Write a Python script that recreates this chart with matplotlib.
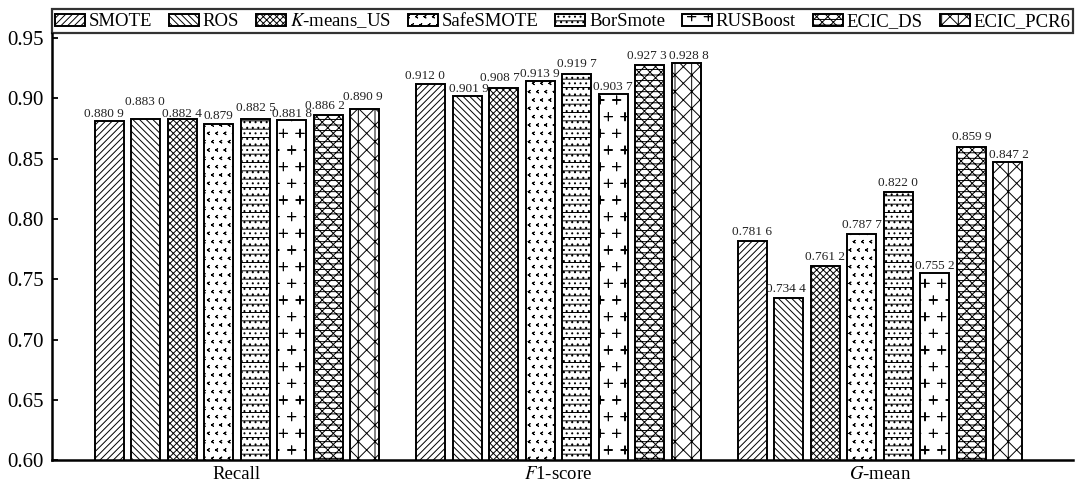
import warnings
import numpy as np
import matplotlib
matplotlib.use('Agg')
import matplotlib.pyplot as plt
from matplotlib import hatch as mhatch
from matplotlib.path import Path

warnings.filterwarnings('ignore')

# data
metrics = ['Recall', '$F$1-score', '$G$-mean']
methods = ['SMOTE', 'ROS', '$K$-means_US', 'SafeSMOTE', 'BorSmote',
           'RUSBoost', 'ECIC_DS', 'ECIC_PCR6']
recall = ['0.8809', '0.8830', '0.8824', '0.879', '0.8825', '0.8818', '0.8862', '0.8909']
f1_score = ['0.9120', '0.9019', '0.9087', '0.9139', '0.9197', '0.9037', '0.9273', '0.9288']
g_mean = ['0.7816', '0.7344', '0.7612', '0.7877', '0.8220', '0.7552', '0.8599', '0.8472']


# two extra hatch shapes: '+' signs (p) and chevrons (c)
class PlusHatch(mhatch.Shapes):
    size = 0.5
    filled = False

    def __init__(self, hatch, density):
        self.num_rows = hatch.count('p') * density
        self.shape_vertices = np.array([[-0.5, 0], [0.5, 0], [0, -0.5], [0, 0.5]])
        self.shape_codes = np.array([Path.MOVETO, Path.LINETO, Path.MOVETO, Path.LINETO])
        super().__init__(hatch, density)


class ChevronHatch(mhatch.Shapes):
    size = 0.3
    filled = False

    def __init__(self, hatch, density):
        self.num_rows = hatch.count('c') * density
        self.shape_vertices = np.array([[0.35, 0.5], [-0.35, 0], [-0.35, 0], [0.35, -0.5]])
        self.shape_codes = np.array([Path.MOVETO, Path.LINETO, Path.MOVETO, Path.LINETO])
        super().__init__(hatch, density)


mhatch._hatch_types.append(PlusHatch)
mhatch._hatch_types.append(ChevronHatch)

plt.rcParams['font.family'] = ['Liberation Serif', 'DejaVu Serif']
plt.rcParams['mathtext.fontset'] = 'stix'
plt.rcParams['hatch.linewidth'] = 0.7
plt.rcParams['hatch.color'] = 'black'

hatches = ['/////', '\\\\\\\\\\', 'xxxxx', 'cc', '--...', 'p', 'xxx---', 'xx|']

# label nudges in points (dx, gap above bar)
label_dx = [[-3.5, -0.5, -0.5, 0, 0.5, 0, -2, -1.5],
            [-4.5, 1.5, -3, -0.5, 0, -0.5, -2, 2],
            [0, -2, 0, 0, 0, 0, 0, 0.5]]
label_dy = [[3, 10, 1.5, 3.5, 6, 2, 4.5, 6.5],
            [3.5, 3, 5, 3.5, 5, 3, 4.5, 3],
            [4.5, 4.5, 4.5, 4.5, 4.5, 3, 4.5, 3]]

fig = plt.figure(figsize=(10.75, 4.88), dpi=100)
ax = fig.add_axes([0.0484, 0.0564, 0.9498, 0.876])

groups = np.arange(len(metrics))
pitch = 0.1135
width = 0.09
table = [recall, f1_score, g_mean]

for i, name in enumerate(methods):
    vals = [float(t[i]) for t in table]
    xs = groups + (i - 3.5) * pitch
    ax.bar(xs, vals, width, color='white', edgecolor='black', linewidth=1.4,
           hatch=hatches[i], label=name)
    for g in range(len(metrics)):
        s = table[g][i]
        txt = s[:5] + ' ' + s[5:] if len(s) > 5 else s
        ax.annotate(txt, (xs[g], vals[g]),
                    xytext=(label_dx[g][i], label_dy[g][i]),
                    textcoords='offset points', ha='center', va='baseline',
                    fontsize=9.5, color='#222222')

ax.set_xlim(-0.575, 2.6)
ax.set_ylim(0.6, 0.954)
ax.set_yticks(np.arange(0.60, 0.951, 0.05))
ax.set_yticklabels([f'{v:.2f}' for v in np.arange(0.60, 0.951, 0.05)])
ax.set_xticks(groups)
ax.set_xticklabels(metrics)

ax.spines['right'].set_visible(False)
ax.spines['top'].set_visible(False)
ax.spines['left'].set_linewidth(1.8)
ax.spines['bottom'].set_linewidth(1.8)
ax.tick_params(axis='y', direction='in', length=4, width=1.3, labelsize=15, pad=6)
ax.tick_params(axis='x', length=0, labelsize=13.5, pad=4)

leg = ax.legend(loc='lower left', bbox_to_anchor=(0, 1, 1, 0.0585), mode='expand',
                ncol=8, borderaxespad=0, fontsize=13.5, frameon=True, fancybox=False,
                handlelength=1.6, handleheight=0.6, handletextpad=0.2,
                borderpad=0.15, columnspacing=0.3)
leg.get_frame().set_edgecolor('black')
leg.get_frame().set_linewidth(1.6)

fig.savefig('out.png', dpi=100)
